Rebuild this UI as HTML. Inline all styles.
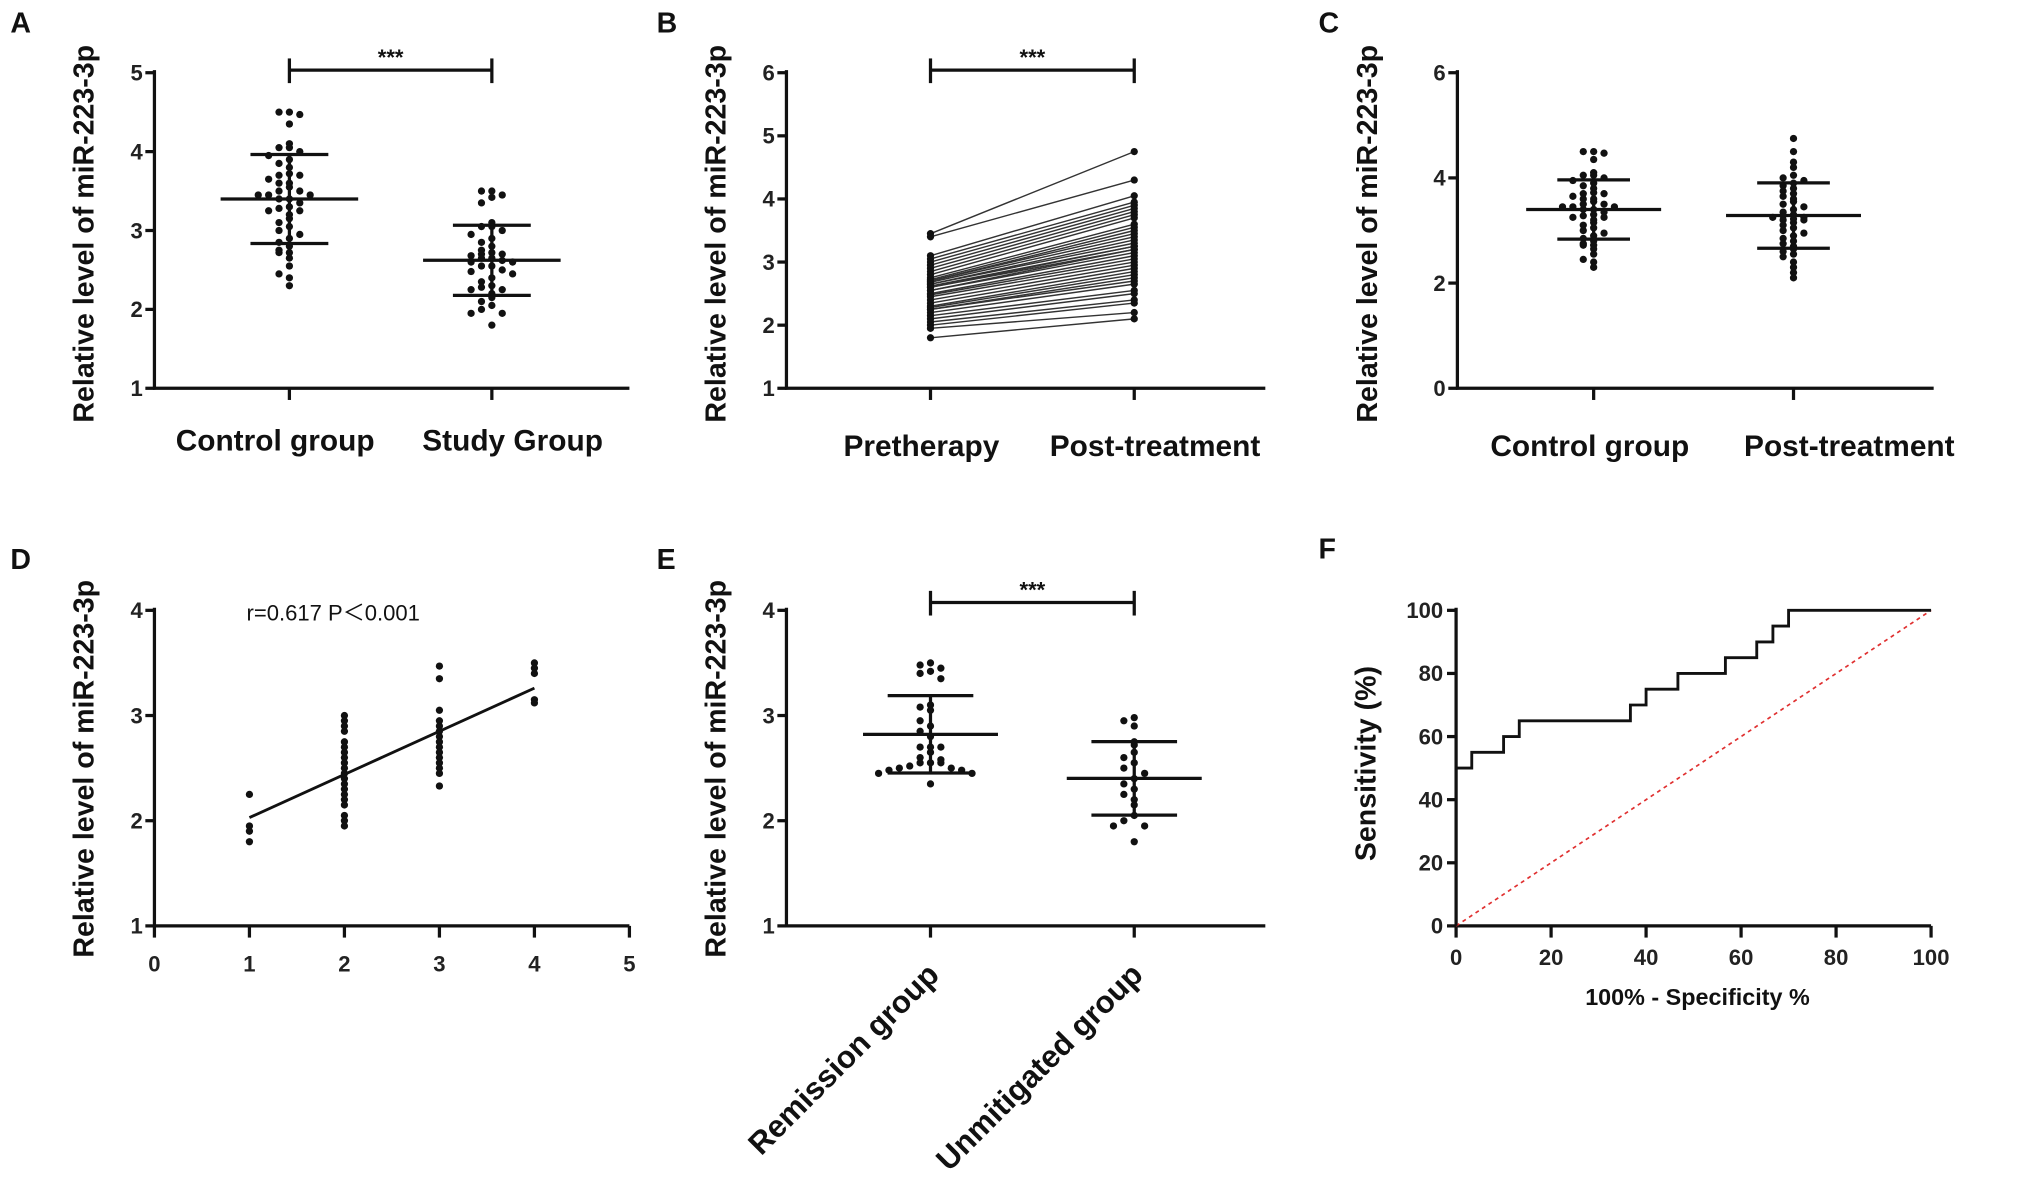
<!DOCTYPE html>
<html><head><meta charset="utf-8"><style>
html,body{margin:0;padding:0;background:#fff;}
svg{display:block;font-family:"Liberation Sans",Arial,sans-serif;font-weight:bold;}
</style></head><body>
<svg id="fig" width="2031" height="1196" viewBox="0 0 1565 921" preserveAspectRatio="none" xmlns="http://www.w3.org/2000/svg"></svg>
<script>
// ---- data ----
const catsA = ["Control group","Study Group"];
const controlVals = [4.5,4.5,4.47,4.35,4.1,4.05,4.05,4.0,3.95,3.9,3.85,3.8,3.72,3.7,3.7,3.65,3.6,3.6,3.55,3.5,3.5,3.45,3.45,3.45,3.4,3.4,3.35,3.3,3.28,3.25,3.25,3.2,3.15,3.1,3.05,3.0,2.95,2.9,2.85,2.8,2.75,2.72,2.72,2.65,2.55,2.45,2.4,2.3];
const studyVals = [3.5,3.5,3.45,3.42,3.35,3.1,3.05,3.05,3.0,2.95,2.9,2.85,2.8,2.75,2.72,2.7,2.7,2.68,2.65,2.65,2.62,2.6,2.6,2.55,2.55,2.5,2.48,2.45,2.4,2.35,2.3,2.28,2.25,2.25,2.2,2.15,2.1,2.05,2.0,1.95,1.95,1.8];
const catsB = ["Pretherapy","Post-treatment"];
const preVals = [3.45,3.4,3.1,3.05,3.0,2.95,2.9,2.85,2.8,2.75,2.72,2.7,2.7,2.68,2.65,2.65,2.62,2.6,2.6,2.55,2.55,2.5,2.48,2.45,2.4,2.35,2.3,2.28,2.25,2.25,2.2,2.15,2.1,2.05,2.0,1.95,1.8];
const postVals = [4.75,4.3,4.05,3.95,3.9,3.85,3.8,3.75,3.7,3.6,3.55,3.5,3.45,3.4,3.35,3.3,3.25,3.25,3.2,3.2,3.15,3.1,3.05,3.0,2.95,2.9,2.85,2.8,2.75,2.7,2.65,2.55,2.5,2.4,2.35,2.2,2.1];
const catsC = ["Control group","Post-treatment"];
const postCVals = [4.75,4.5,4.3,4.2,4.05,4.0,3.95,3.9,3.85,3.8,3.75,3.7,3.65,3.6,3.55,3.5,3.45,3.4,3.35,3.3,3.28,3.25,3.25,3.22,3.2,3.2,3.15,3.1,3.05,3.0,2.95,2.9,2.85,2.8,2.75,2.7,2.65,2.6,2.55,2.5,2.4,2.3,2.2,2.1];
const dX = [1,1,1,1, 2,2,2,2,2,2,2,2,2,2,2,2,2,2,2,2,2,2,2,2, 3,3,3,3,3,3,3,3,3,3,3,3,3,3,3, 4,4,4,4,4];
const dY = [2.25,1.95,1.9,1.8, 3.0,2.95,2.9,2.85,2.75,2.7,2.65,2.6,2.55,2.5,2.45,2.4,2.35,2.3,2.25,2.2,2.15,2.05,2.0,1.95, 3.47,3.35,3.05,2.95,2.9,2.85,2.8,2.75,2.7,2.65,2.6,2.55,2.5,2.45,2.33, 3.5,3.45,3.4,3.15,3.12];
const catsE = ["Remission group","Unmitigated group"];
const remVals = [3.5,3.48,3.45,3.42,3.4,3.35,3.1,3.08,3.05,2.95,2.9,2.85,2.8,2.7,2.7,2.7,2.65,2.6,2.58,2.55,2.55,2.55,2.52,2.5,2.5,2.48,2.48,2.45,2.45,2.35];
const unmVals = [2.98,2.95,2.9,2.75,2.72,2.65,2.6,2.55,2.5,2.45,2.4,2.35,2.3,2.25,2.2,2.15,2.05,2.0,1.95,1.95,1.8];
const rocFpr = [0,0,3.3,3.3,10,10,13.3,13.3,36.7,36.7,40,40,46.7,46.7,56.7,56.7,63.3,63.3,66.7,66.7,70,70,100];
const rocTpr = [0,50,50,55,55,60,60,65,65,70,70,75,75,80,80,85,85,90,90,95,95,100,100];
const ticksRoc = [0,20,40,60,80,100];

const svg = document.getElementById('fig');
const NS = 'http://www.w3.org/2000/svg';
function el(tag, attrs, parent){const e=document.createElementNS(NS,tag);for(const k in attrs)e.setAttribute(k,attrs[k]);(parent||svg).appendChild(e);return e;}
function txt(s, attrs, parent){const e=el('text',attrs,parent);e.textContent=s;return e;}
function lin(x1,y1,x2,y2,w,parent,col){return el('line',{x1,y1,x2,y2,stroke:col||'#111','stroke-width':w||2},parent);}
function mean(a){return a.reduce((s,v)=>s+v,0)/a.length;}
function sd(a){const m=mean(a);return Math.sqrt(a.reduce((s,v)=>s+(v-m)*(v-m),0)/(a.length-1));}

function axes(g, ax){
  const yl=lin(ax.x0,ax.yTop-2,ax.x0,ax.yBot+1,2.5,g);
  
  
  const xl=lin(ax.x0-1,ax.yBot,ax.x1,ax.yBot,2.5,g);
  
  
  ax.yticks.forEach(v=>{
    const y=ax.sy(v);
    lin(ax.x0-7,y,ax.x0,y,2.5,g);
    const t=txt(String(v),{x:ax.x0-9,y:y+6,'font-size':17,'text-anchor':'end',fill:'#222'},g);
    
    
  });
  const yt=txt('Relative level of miR-223-3p',{transform:`translate(${ax.titleX},${ax.titleY}) rotate(-90)`,'font-size':22,'text-anchor':'middle',fill:'#111'},g);
  
  
}
function mkScale(d0,d1,r0,r1){return v=>r0+(v-d0)/(d1-d0)*(r1-r0);}
function swarm(g, vals, cx, sy){
  const bins={};
  vals.forEach(v=>{
    const b=Math.round(v/0.1);
    bins[b]=(bins[b]||0);
    const k=bins[b]; bins[b]++;
    const off = k===0?0:(k%2? -1:1)*Math.ceil(k/2)*8;
    const c=el('circle',{cx:cx+off,cy:sy(v),r:2.8,fill:'#111'},g);
    
    
  });
}
function meanSd(g, vals, cx, sy, hw, sw){
  const m=mean(vals), s=sd(vals);
  lin(cx-hw,sy(m),cx+hw,sy(m),2.5,g);
  lin(cx-sw,sy(m+s),cx+sw,sy(m+s),2.5,g);
  lin(cx-sw,sy(m-s),cx+sw,sy(m-s),2.5,g);
  lin(cx,sy(m+s),cx,sy(m-s),2.5,g);
}
function bracket(g,x1,x2,y){
  lin(x1,y,x2,y,2.5,g);lin(x1,y-9,x1,y+10,2.5,g);lin(x2,y-9,x2,y+10,2.5,g);
  const t=txt('***',{x:(x1+x2)/2,y:y-4,'font-size':17,'text-anchor':'middle',fill:'#111'},g);
  
  
}
function letter(s,x,y){const t=txt(s,{x,y,'font-size':22,fill:'#111'});
  
  }
function catTicks(g,ax,cx){cx.forEach(x=>lin(x,ax.yBot,x,ax.yBot+9,2.5,g));}
function catLabels(g,cats,xs,y){cats.forEach((c,i)=>{const t=txt(c,{x:xs[i],y,'font-size':23,'text-anchor':'middle',fill:'#111'},g);
  
  });}

// ---- Panel A ----
(function(){
  const g=el('g',{});
  const ax={x0:119,x1:485,yTop:56,yBot:299,yticks:[1,2,3,4,5],titleX:72,titleY:180};
  ax.sy=mkScale(1,5,299,56);
  axes(g,ax);const cx=[223,379];catTicks(g,ax,cx);
  swarm(g,controlVals,cx[0],ax.sy);swarm(g,studyVals,cx[1],ax.sy);
  meanSd(g,controlVals,cx[0],ax.sy,53,30);meanSd(g,studyVals,cx[1],ax.sy,53,30);
  bracket(g,cx[0],cx[1],54);catLabels(g,catsA,[212,395],347);
  letter('A',8,25);
})();
// ---- Panel B ----
(function(){
  const g=el('g',{});
  const ax={x0:606,x1:975,yTop:56,yBot:299,yticks:[1,2,3,4,5,6],titleX:559,titleY:180};
  ax.sy=mkScale(1,6,299,56);
  axes(g,ax);const cx=[717,874];catTicks(g,ax,cx);
  preVals.forEach((v,i)=>{const l=lin(cx[0],ax.sy(v),cx[1],ax.sy(postVals[i]),1.1,g,'#333');
    
    [[cx[0],v],[cx[1],postVals[i]]].forEach(p=>{const c=el('circle',{cx:p[0],cy:ax.sy(p[1]),r:2.8,fill:'#111'},g);
      });});
  bracket(g,cx[0],cx[1],54);catLabels(g,catsB,[710,890],351);
  letter('B',506,25);
})();
// ---- Panel C ----
(function(){
  const g=el('g',{});
  const ax={x0:1123,x1:1490,yTop:56,yBot:299,yticks:[0,2,4,6],titleX:1061,titleY:180};
  ax.sy=mkScale(0,6,299,56);
  axes(g,ax);const cx=[1228,1382];catTicks(g,ax,cx);
  swarm(g,controlVals,cx[0],ax.sy);swarm(g,postCVals,cx[1],ax.sy);
  meanSd(g,controlVals,cx[0],ax.sy,52,28);meanSd(g,postCVals,cx[1],ax.sy,52,28);
  catLabels(g,catsC,[1225,1425],351);
  letter('C',1016,25);
})();
// ---- Panel D ----
(function(){
  const g=el('g',{});
  const ax={x0:119,x1:485,yTop:470,yBot:713,yticks:[1,2,3,4],titleX:72,titleY:592};
  ax.sy=mkScale(1,4,713,470);const sx=mkScale(0,5,119,485);
  axes(g,ax);
  [0,1,2,3,4,5].forEach(v=>{lin(sx(v),713,sx(v),722,2.5,g);
    const t=txt(String(v),{x:sx(v),y:748,'font-size':17,'text-anchor':'middle',fill:'#222'},g);
    });
  dX.forEach((x,i)=>{const c=el('circle',{cx:sx(x),cy:ax.sy(dY[i]),r:2.8,fill:'#111'},g);
    });
  const mx=mean(dX),my=mean(dY);let num=0,den=0;dX.forEach((x,i)=>{num+=(x-mx)*(dY[i]-my);den+=(x-mx)*(x-mx);});
  const b=num/den,a=my-b*mx;
  const rl=lin(sx(1),ax.sy(a+b),sx(4),ax.sy(a+4*b),2.2,g);
  
  const t=txt('r=0.617 P＜0.001',{x:190,y:478,'font-size':17,'font-weight':'normal',fill:'#111'},g);
  t.setAttribute('font-family','"Liberation Sans","Noto Sans CJK SC",sans-serif');
  
  letter('D',8,438);
})();
// ---- Panel E ----
(function(){
  const g=el('g',{});
  const ax={x0:606,x1:975,yTop:470,yBot:713,yticks:[1,2,3,4],titleX:559,titleY:592};
  ax.sy=mkScale(1,4,713,470);
  axes(g,ax);const cx=[717,874];catTicks(g,ax,cx);
  swarm(g,remVals,cx[0],ax.sy);swarm(g,unmVals,cx[1],ax.sy);
  meanSd(g,remVals,cx[0],ax.sy,52,33);meanSd(g,unmVals,cx[1],ax.sy,52,33);
  bracket(g,cx[0],cx[1],464);
  catsE.forEach((c,i)=>{const t=txt(c,{transform:`translate(${cx[i]+8},${752}) rotate(-45)`,'font-size':24,'text-anchor':'end',fill:'#111'},g);
    });
  letter('E',506,438);
})();
// ---- Panel F ----
(function(){
  const g=el('g',{});
  const sx=mkScale(0,100,1122,1488), sy=mkScale(0,100,713,470);
  lin(1122,468,1122,714,2.5,g);
  lin(1121,713,1488,713,2.5,g);
  ticksRoc.forEach(v=>{
    lin(1115,sy(v),1122,sy(v),2.5,g);
    const t=txt(String(v),{x:1112,y:sy(v)+6,'font-size':17,'text-anchor':'end',fill:'#222'},g);
    
    lin(sx(v),713,sx(v),722,2.5,g);
    const u=txt(String(v),{x:sx(v),y:743,'font-size':17,'text-anchor':'middle',fill:'#222'},g);
    
  });
  const ref=el('line',{x1:sx(0),y1:sy(0),x2:sx(100),y2:sy(100),stroke:'#e03030','stroke-width':1.3,'stroke-dasharray':'3,3'},g);
  
  const pts=rocFpr.map((f,i)=>sx(f)+','+sy(rocTpr[i])).join(' ');
  const p=el('polyline',{points:pts,fill:'none',stroke:'#111','stroke-width':2.2},g);
  
  const yt=txt('Sensitivity (%)',{transform:'translate(1060,588) rotate(-90)','font-size':22,'text-anchor':'middle',fill:'#111'},g);
  
  const xt=txt('100% - Specificity %',{x:1308,y:774,'font-size':18,'text-anchor':'middle',fill:'#111'},g);
  
  letter('F',1016,430);
})();
</script>
</body></html>
